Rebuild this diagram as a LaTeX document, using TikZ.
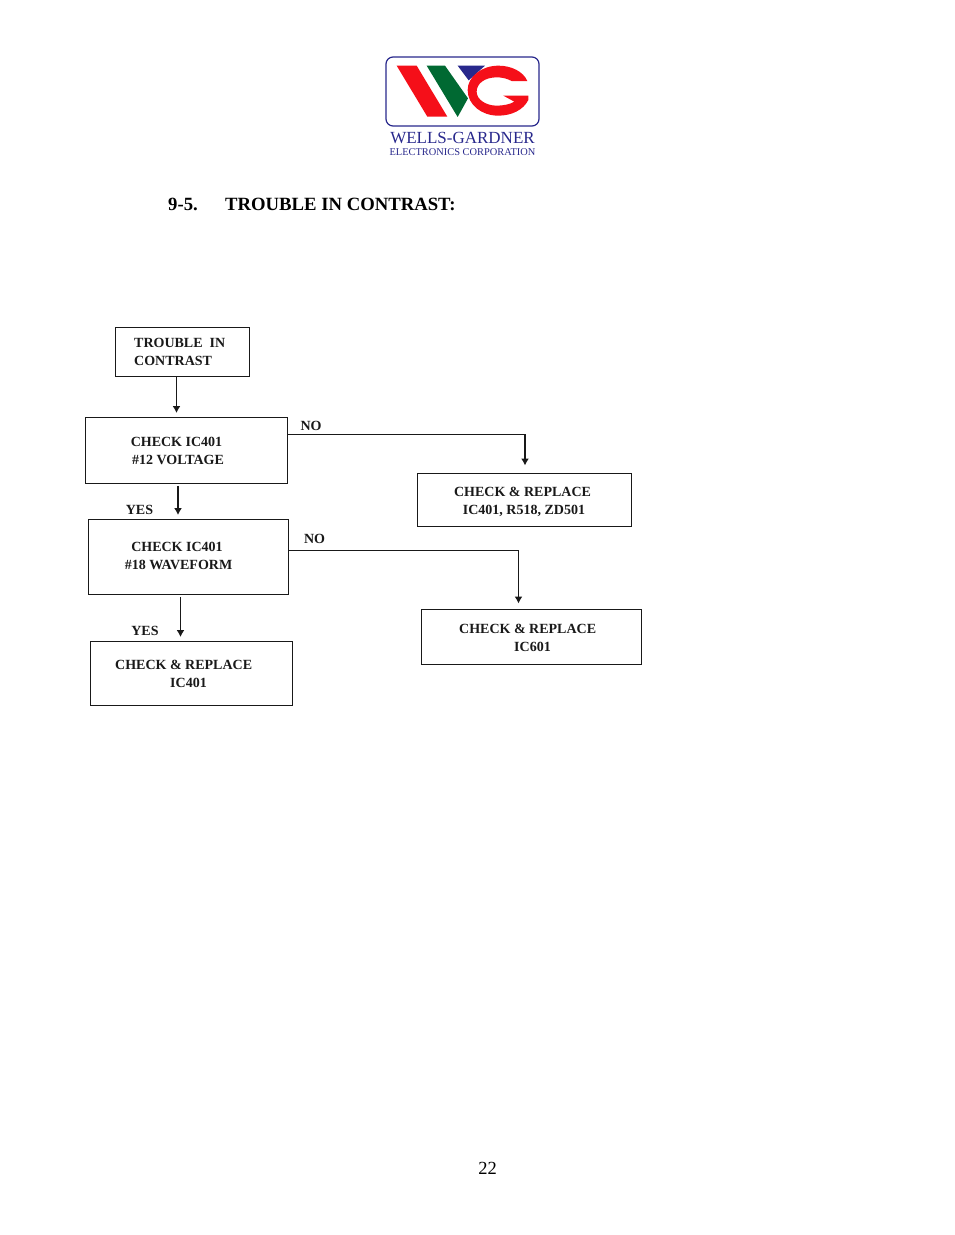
\documentclass[tikz,border=0pt]{standalone}
\usepackage{fontspec}
\setmainfont{Liberation Serif}
\usetikzlibrary{arrows.meta}
\definecolor{wgred}{RGB}{245,15,25}
\definecolor{wggreen}{RGB}{0,105,50}
\definecolor{wgblue}{RGB}{40,40,140}
\definecolor{ink}{RGB}{25,25,25}
\tikzset{
  box/.style={draw=ink,line width=1.3pt,inner sep=0pt,anchor=north west},
  label/.style={inner sep=0pt,font=\bfseries\fontsize{14}{17.7}\selectfont,text=ink,align=left,anchor=north west},
  tag/.style={inner sep=0pt,font=\bfseries\fontsize{14}{17}\selectfont,text=ink},
  arr/.style={draw=ink,line width=1.3pt,-{Latex[length=7pt,width=8pt]}},
  titletext/.style={inner sep=0pt,font=\bfseries\fontsize{18.7}{22}\selectfont,anchor=base west},
}
\begin{document}
\begin{tikzpicture}[x=1pt,y=-1pt]
\useasboundingbox (0,0) rectangle (954,1235);
% logo
\draw[wgblue,line width=1.2pt,rounded corners=7pt] (386,57) rectangle (539,126);
\begin{scope}[shift={(375,45)},x=0.3333pt,y=-0.3333pt]
\fill[wgred] (65,62)--(125,62)--(217,215)--(157,215)--cycle;
\fill[wggreen] (155,62)--(210,62)--(279,160)--(248,216)--cycle;
\fill[wgblue] (248,62)--(330,62)--(281,106)--cycle;
\fill[wgred] (370,62) .. controls (410,62) and (445,80) .. (457,108)
  -- (410,108) .. controls (395,100) and (380,97) .. (365,97)
  .. controls (330,97) and (305,115) .. (305,140)
  .. controls (305,165) and (335,182) .. (365,182)
  .. controls (385,182) and (405,178) .. (418,170)
  -- (385,152) -- (460,152) -- (460,165)
  .. controls (445,195) and (410,212) .. (370,212)
  .. controls (320,212) and (278,180) .. (278,135)
  .. controls (278,95) and (320,62) .. (370,62) -- cycle;
\end{scope}
\node[inner sep=0pt,anchor=base,text=wgblue,font=\fontsize{17}{17}\selectfont] (logoa) at (462.5,143) {WELLS-GARDNER};
\node[inner sep=0pt,anchor=base,text=wgblue,font=\fontsize{10.4}{10.4}\selectfont] (logob) at (462.5,155) {ELECTRONICS CORPORATION};
% title
\node[titletext] (num) at (168,210) {9-5.};
\node[titletext] (title) at (225,210) {TROUBLE IN CONTRAST:};
% boxes
\node[box,minimum width=134pt,minimum height=49pt] (tr) at (114.5,326.5) {};
\node[box,minimum width=202pt,minimum height=66pt] (ca) at (84.5,416.5) {};
\node[box,minimum width=200pt,minimum height=75pt] (cb) at (87.5,518.5) {};
\node[box,minimum width=202pt,minimum height=64pt] (cc) at (89.5,640.5) {};
\node[box,minimum width=214pt,minimum height=53pt] (cd) at (416.5,472.5) {};
\node[box,minimum width=220pt,minimum height=55pt] (ce) at (420.5,608.5) {};
% box texts
\node[label] (trt) at (134,338.5) {TROUBLE\ \ IN\\CONTRAST};
\node[label,align=center,anchor=north] (cat) at (178,437) {CHECK IC401\kern3pt\\\#12 VOLTAGE};
\node[label,align=center,anchor=north] (cbt) at (178.5,542) {CHECK IC401\kern3pt\\\#18 WAVEFORM};
\node[label] (cct) at (115,660) {CHECK \& REPLACE\\\hspace{55pt}IC401};
\node[label,align=center,anchor=north] (cdt) at (524,487) {CHECK \& REPLACE\kern3pt\\IC401, R518, ZD501};
\node[label] (cet) at (459,624) {CHECK \& REPLACE\\\hspace{55pt}IC601};
% tags
\node[tag] (no1) at (311,425.5) {NO};
\node[tag] (no2) at (314.5,539) {NO};
\node[tag] (yes1) at (139.5,510) {YES};
\node[tag] (yes2) at (145,630.5) {YES};
% connectors
\coordinate (xa) at (176.5,0);
\coordinate (xb) at (178,0);
\coordinate (xc) at (180.5,0);
\coordinate (ya) at (0,434.5);
\coordinate (yb) at (0,550.5);
\coordinate (xd) at (525,0);
\coordinate (xe) at (518.5,0);
\draw[arr,shorten >=3.5pt] (tr.south -| xa) -- (ca.north -| xa);
\draw[arr,shorten <=2pt,shorten >=3.5pt] (ca.south -| xb) -- (cb.north -| xb);
\draw[arr,shorten <=2pt,shorten >=3.5pt] (cb.south -| xc) -- (cc.north -| xc);
\draw[arr,shorten >=7pt] (ca.east |- ya) -- (xd |- ya) -- (cd.north -| xd);
\draw[arr,shorten >=5pt] (cb.east |- yb) -- (xe |- yb) -- (ce.north -| xe);
% page number
\node[inner sep=0pt,anchor=base,font=\fontsize{18.5}{22}\selectfont] (page) at (487.5,1174) {22};
\end{tikzpicture}
\end{document}
